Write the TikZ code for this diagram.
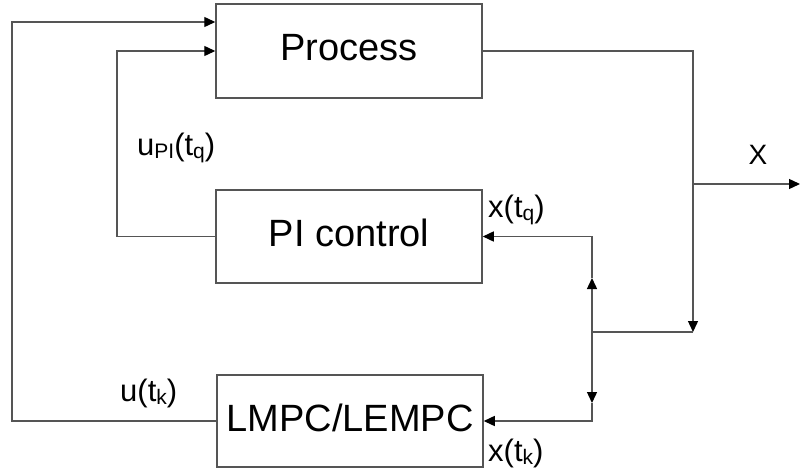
\documentclass[tikz,border=0pt]{standalone}
\usepackage{fontspec}
\setmainfont{Liberation Sans}
\usetikzlibrary{arrows.meta}
\definecolor{linec}{RGB}{85,85,85}
\newcommand{\sbs}[1]{\raisebox{-3pt}{\fontsize{21}{21}\selectfont #1}}
\begin{document}
\begin{tikzpicture}[x=1pt,y=-1pt,
  blk/.style={draw=linec, line width=1.5pt, minimum width=266pt, inner sep=0pt,
    font=\fontsize{38}{40}\selectfont, text height=27pt, text depth=7pt},
  wire/.style={draw=linec, line width=1.4pt},
  arr/.style={wire, -{Triangle[length=11pt,width=10pt,color=black]}},
  lbl/.style={inner sep=0pt, anchor=base west, font=\fontsize{31}{33}\selectfont}]
\useasboundingbox (0,0) rectangle (800,473);
\fill[white] (0,0) rectangle (800,473);
% blocks
\node[blk, minimum height=94pt] (proc) at (349,51) {Process};
\node[blk, minimum height=93pt] (pi) at (349,236.5) {PI control};
\node[blk, minimum height=92pt] (mpc) at (350,421) {LMPC/LEMPC};
% coordinates
\coordinate (a1) at (12,421);
\coordinate (a2) at (12,22);
\coordinate (b1) at (117,236.5);
\coordinate (b2) at (117,51);
\coordinate (split) at (693,184);
\coordinate (out) at (800,184);
\coordinate (c1) at (693,332);
\coordinate (j) at (592,332);
\coordinate (up) at (592,278);
\coordinate (dn) at (592,403);
% connectors
\draw[arr] (mpc.west) -- (a1) -- (a2) -- (proc.west |- a2);
\draw[arr] (pi.west) -- (b1) -- (b2) -- (proc.west);
\draw[arr] (proc.east) -| (c1);
\draw[arr] (split) -- (out);
\draw[wire] (c1) -- (j);
\draw[arr] (j) -- (up);
\draw[arr] (up) |- (pi.east);
\draw[arr] (j) -- (dn);
\draw[arr] (dn) |- (mpc.east);
% labels
\node[lbl] (lupi) at (137,156) {u\sbs{PI}(t\sbs{q})};
\node[lbl] (lxq) at (488,217) {x(t\sbs{q})};
\node[lbl] (lu) at (120,401) {u(t\sbs{k})};
\node[lbl] (lxk) at (488,461) {x(t\sbs{k})};
\node[inner sep=0pt, anchor=base, font=\fontsize{28}{30}\selectfont] (lx) at (758,165) {X};
\end{tikzpicture}
\end{document}
